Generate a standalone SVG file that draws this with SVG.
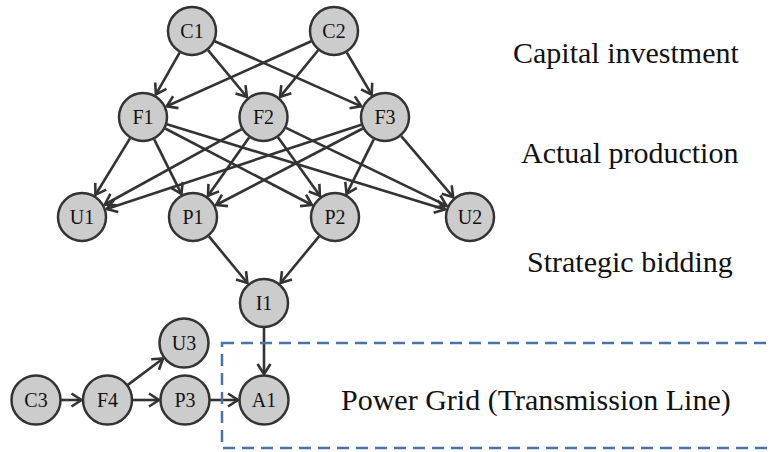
<svg xmlns="http://www.w3.org/2000/svg" width="771" height="452" viewBox="0 0 771 452">
<style>
.n circle{fill:#cccccc;stroke:#333333;stroke-width:2.5}
.n text{font-size:20px;fill:#111;text-anchor:middle}
.e line{stroke:#333333;stroke-width:2.6;marker-end:url(#ah)}
.lbl{font-size:30px;fill:#111}
.box{fill:none;stroke:#4a74a8;stroke-width:2.5;stroke-dasharray:12 7}
</style>
<defs>
<marker id="ah" markerUnits="userSpaceOnUse" viewBox="-3 -3 17 19" markerWidth="17" markerHeight="19" refX="10" refY="6.5" orient="auto">
<path d="M0,0 L10,6.5 L0,13" fill="none" stroke="#333333" stroke-width="2.6"/>
</marker>
</defs>
<rect width="771" height="452" fill="#ffffff"/>
<g id="connectors" class="e">
<line x1="179.6" y1="52.7" x2="155.9" y2="94.4"/>
<line x1="208.0" y1="50.2" x2="246.9" y2="97.0"/>
<line x1="214.8" y1="41.2" x2="361.3" y2="106.4"/>
<line x1="311.2" y1="41.3" x2="166.7" y2="106.3"/>
<line x1="318.2" y1="50.3" x2="280.0" y2="96.9"/>
<line x1="346.8" y1="52.5" x2="371.7" y2="94.6"/>
<line x1="130.0" y1="138.4" x2="95.5" y2="194.8"/>
<line x1="154.2" y1="139.4" x2="181.4" y2="193.8"/>
<line x1="165.2" y1="128.5" x2="311.9" y2="205.0"/>
<line x1="166.9" y1="124.3" x2="445.1" y2="209.4"/>
<line x1="241.6" y1="129.1" x2="104.8" y2="204.5"/>
<line x1="249.1" y1="137.4" x2="208.0" y2="195.8"/>
<line x1="278.0" y1="137.3" x2="319.9" y2="195.8"/>
<line x1="286.0" y1="127.9" x2="446.6" y2="205.7"/>
<line x1="361.3" y1="124.8" x2="106.7" y2="208.9"/>
<line x1="362.8" y1="128.5" x2="216.1" y2="205.0"/>
<line x1="373.8" y1="139.4" x2="346.6" y2="193.8"/>
<line x1="401.2" y1="136.1" x2="453.2" y2="197.2"/>
<line x1="208.9" y1="236.3" x2="247.4" y2="283.0"/>
<line x1="319.1" y1="236.3" x2="280.6" y2="283.0"/>
<line x1="264" y1="328" x2="264" y2="374"/>
<line x1="61" y1="400" x2="81.5" y2="400"/>
<line x1="127.5" y1="385.1" x2="163.1" y2="358.5"/>
<line x1="132.5" y1="400" x2="159" y2="400"/>
<line x1="210" y1="400" x2="238" y2="400"/>
</g>
<rect class="box" x="222" y="343" width="600" height="105"/>
<g font-family="Liberation Serif, DejaVu Serif, serif">
<g id="C1" class="n"><circle cx="192" cy="31" r="24"/><text x="192" y="38">C1</text></g>
<g id="C2" class="n"><circle cx="334" cy="31" r="24"/><text x="334" y="38">C2</text></g>
<g id="F1" class="n"><circle cx="143" cy="117" r="24"/><text x="143" y="124">F1</text></g>
<g id="F2" class="n"><circle cx="263.5" cy="117" r="24"/><text x="263.5" y="124">F2</text></g>
<g id="F3" class="n"><circle cx="385" cy="117" r="24"/><text x="385" y="124">F3</text></g>
<g id="U1" class="n"><circle cx="82" cy="217" r="24"/><text x="82" y="224">U1</text></g>
<g id="P1" class="n"><circle cx="193" cy="217" r="24"/><text x="193" y="224">P1</text></g>
<g id="P2" class="n"><circle cx="335" cy="217" r="24"/><text x="335" y="224">P2</text></g>
<g id="U2" class="n"><circle cx="470" cy="217" r="24"/><text x="470" y="224">U2</text></g>
<g id="I1" class="n"><circle cx="264" cy="303" r="24"/><text x="264" y="310">I1</text></g>
<g id="U3" class="n"><circle cx="184" cy="343" r="24.5"/><text x="184" y="350">U3</text></g>
<g id="C3" class="n"><circle cx="36" cy="400" r="24.5"/><text x="36" y="407">C3</text></g>
<g id="F4" class="n"><circle cx="107.5" cy="400" r="24.5"/><text x="107.5" y="407">F4</text></g>
<g id="P3" class="n"><circle cx="185" cy="400" r="24.5"/><text x="185" y="407">P3</text></g>
<g id="A1" class="n"><circle cx="264" cy="400" r="24.5"/><text x="264" y="407">A1</text></g>
<g id="labels">
<text class="lbl" x="513" y="63">Capital investment</text>
<text class="lbl" x="521" y="163">Actual production</text>
<text class="lbl" x="527" y="272">Strategic bidding</text>
<text class="lbl" x="341" y="410">Power Grid (Transmission Line)</text>
</g>
</g>
</svg>
